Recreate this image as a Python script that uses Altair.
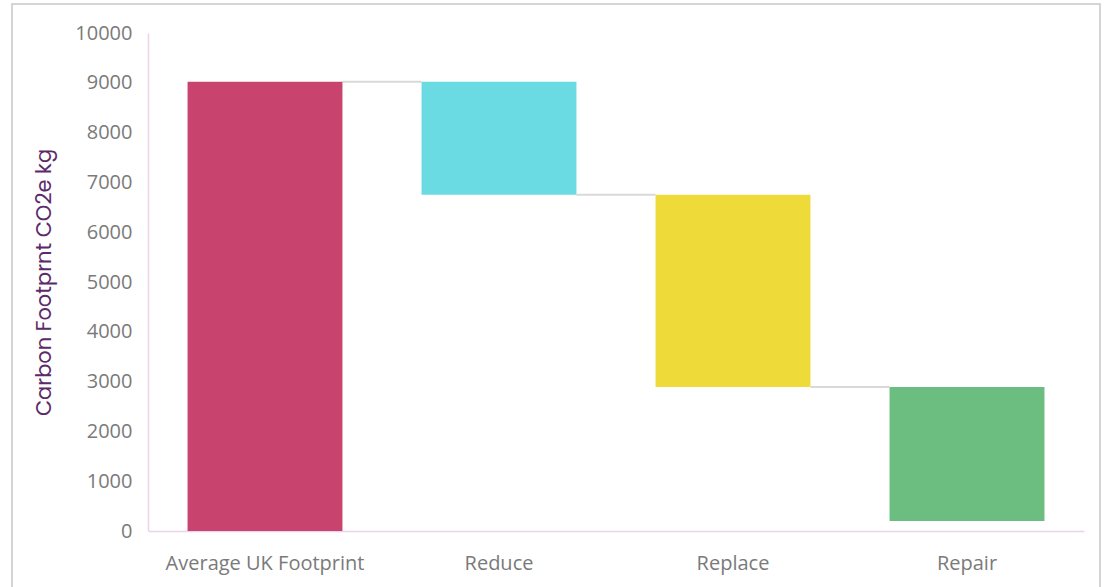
import altair as alt
import pandas as pd

categories = ["Average UK Footprint", "Reduce", "Replace", "Repair"]
starts = [0, 9020, 6750, 2890]
ends = [9020, 6750, 2890, 200]
colors = ["#C8446F", "#6ADBE2", "#EEDB3A", "#6BBD80"]

bars = pd.DataFrame({"cat": categories, "start": starts, "end": ends, "color": colors})
links = pd.DataFrame({
    "cat": categories[:-1],
    "next": categories[1:],
    "level": ends[:-1],
})

xscale = alt.Scale(domain=categories, paddingInner=0.338, paddingOuter=0.169)
yscale = alt.Scale(domain=[0, 10000])

bar_layer = alt.Chart(bars).mark_bar(cornerRadius=0).encode(
    x=alt.X("cat:N", scale=xscale, sort=categories,
            axis=alt.Axis(title=None, labelAngle=0, labelAlign="center", bandPosition=0.5,
                          labelFontSize=20, labelColor="#7a7a7a", labelLimit=400,
                          labelFont="Open Sans", labelPadding=32, ticks=False,
                          domainColor="#EBD3EC", domainWidth=1.5)),
    y=alt.Y("start:Q", scale=yscale,
            axis=alt.Axis(title="Carbon Footprnt CO2e kg", values=list(range(0, 10001, 1000)),
                          format="d",
                          grid=False, ticks=False, labelFontSize=20, labelColor="#7a7a7a",
                          labelFont="Open Sans", labelPadding=16,
                          titleFont="Poppins, Lato, Open Sans", titleFontSize=21,
                          titleFontWeight="normal", titleColor="#5B2A6B", titlePadding=20,
                          domainColor="#EBD3EC", domainWidth=1.5)),
    y2="end:Q",
    color=alt.Color("color:N", scale=None),
)

link_layer = alt.Chart(links).mark_rule(color="#d9d9d9", strokeWidth=2).encode(
    x=alt.X("cat:N", scale=xscale, sort=categories, bandPosition=1),
    x2=alt.X2("next:N", bandPosition=0),
    y=alt.Y("level:Q", scale=yscale),
)

border = alt.Chart(pd.DataFrame({"a": [0]})).mark_rect(
    fill=None, stroke="#c8c8c8", strokeWidth=1.5
).encode(
    x=alt.value(-136), x2=alt.value(952), y=alt.value(-29), y2=alt.value(600)
)

chart = alt.layer(border, link_layer, bar_layer).properties(
    width=936, height=498,
    background="white",
    autosize=alt.AutoSizeParams(type="none"),
    padding={"left": 148, "top": 33, "right": 21, "bottom": 56},
).configure_view(stroke=None)

chart.save("out.html", embed_options={"renderer": "svg", "actions": False})
